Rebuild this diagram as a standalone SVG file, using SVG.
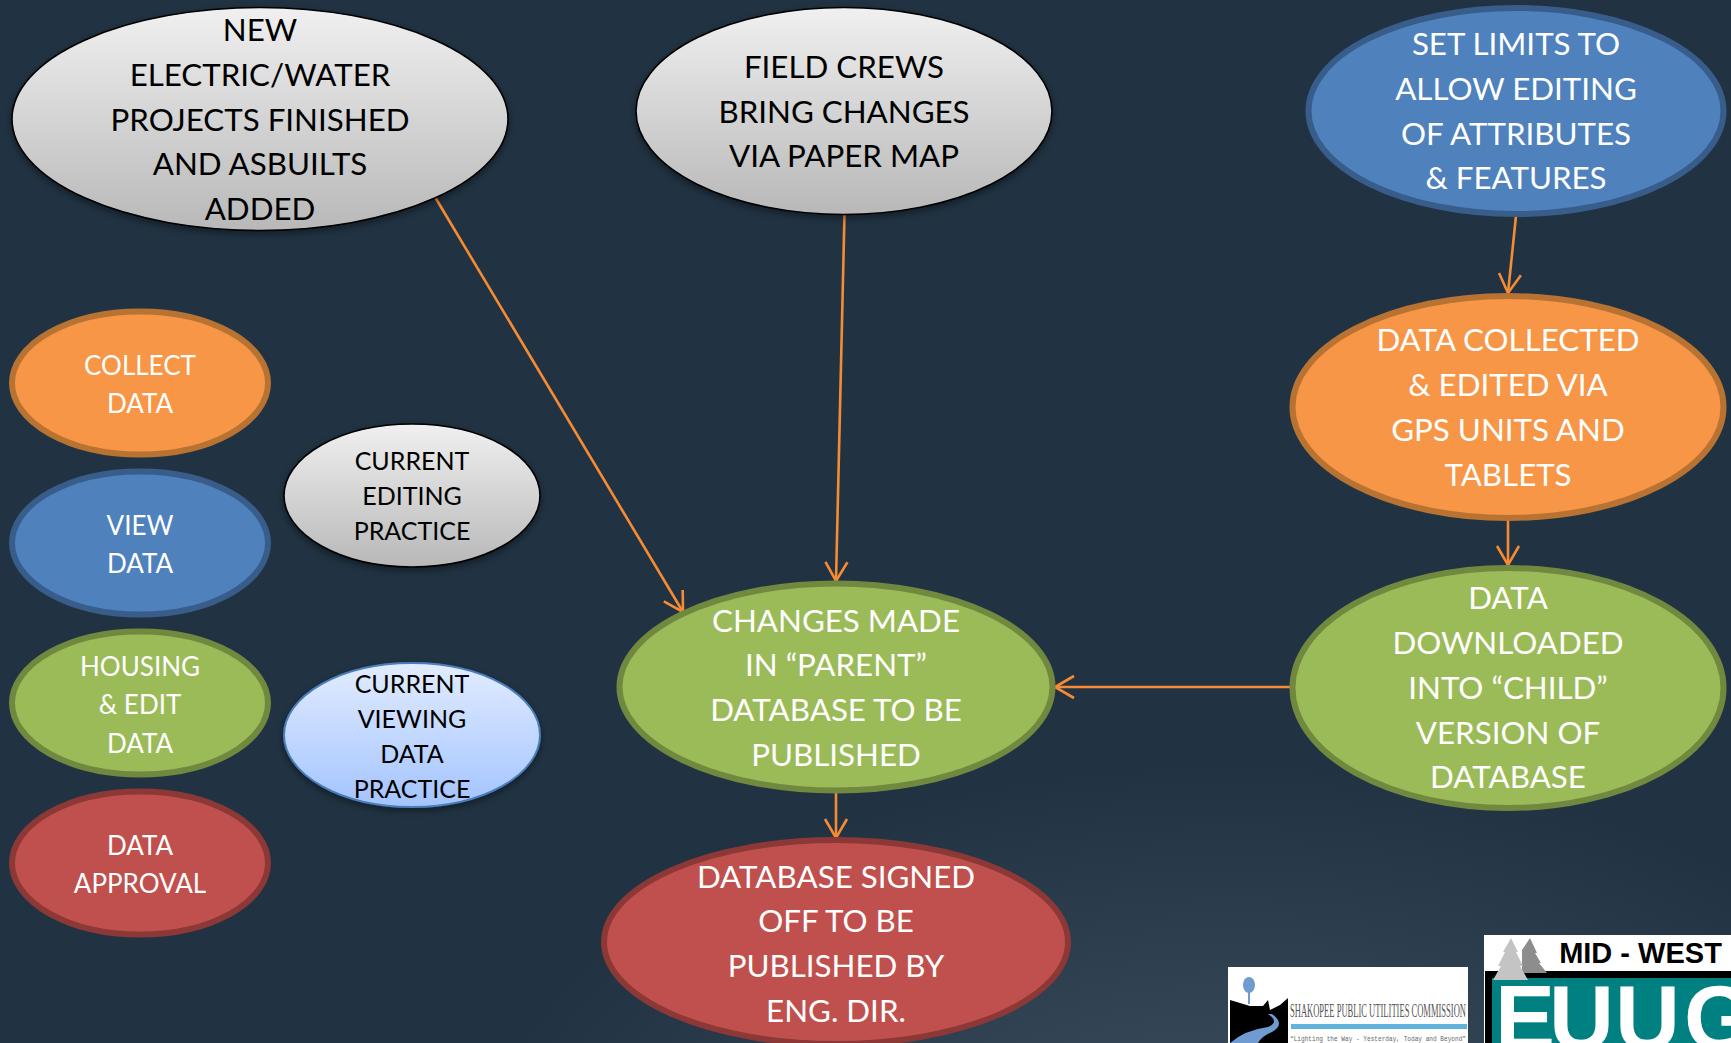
<svg xmlns="http://www.w3.org/2000/svg" width="1731" height="1043" viewBox="0 0 1731 1043">
<style>
text{font-family:"Lato","Carlito","Liberation Sans",sans-serif;text-anchor:middle}
.big{font-size:31.3px;transform:translateY(-1px)}.mid{font-size:26px;transform:translateY(-.5px)}.sm{font-size:25px;transform:translateY(-.5px)}
.w{fill:#fff}.k{fill:#000}
.orange{fill:#f79646;stroke:#b87333;stroke-width:6}
.blue{fill:#4f81bd;stroke:#385d8a;stroke-width:6}
.green{fill:#9bbb59;stroke:#71893f;stroke-width:6}
.red{fill:#c0504d;stroke:#8c3836;stroke-width:6}
.gray{fill:url(#gr);stroke:#000;stroke-width:1.6;filter:url(#sh)}
.lblue{fill:url(#lb);stroke:#4a7ebb;stroke-width:2;filter:url(#sh)}
.c line{stroke:#f68b33;stroke-width:2.6;marker-end:url(#a);fill:none}
</style>
<defs>
<radialGradient id="bg" gradientUnits="userSpaceOnUse" cx="1230" cy="1180" r="760" gradientTransform="translate(1230 1180) scale(1 .55) translate(-1230 -1180)">
<stop offset="0" stop-color="#3e5060"/><stop offset="1" stop-color="#213343"/></radialGradient>
<linearGradient id="gr" x1="0" y1="0" x2="0" y2="1"><stop offset="0" stop-color="#f0f0f0"/><stop offset="1" stop-color="#b8b8b8"/></linearGradient>
<linearGradient id="lb" x1="0" y1="0" x2="0" y2="1"><stop offset="0" stop-color="#e2ecff"/><stop offset="1" stop-color="#a3c4ff"/></linearGradient>
<filter id="sh" x="-10%" y="-10%" width="120%" height="125%"><feDropShadow dx="0" dy="3" stdDeviation="4" flood-color="#000" flood-opacity=".45"/></filter>
<marker id="a" markerUnits="userSpaceOnUse" markerWidth="26" markerHeight="28" refX="21" refY="12" orient="auto" overflow="visible"><path d="M2 1 L21 12 L2 23" fill="none" stroke="#f68b33" stroke-width="2.6"/></marker>
</defs>
<rect id="background" width="1731" height="1043" fill="#213343"/>
<rect width="1731" height="1043" fill="url(#bg)"/>

<g id="connectors" class="c">
<line x1="435" y1="197" x2="683" y2="612"/>
<line x1="844.500" y1="214" x2="836" y2="581"/>
<line x1="1516" y1="216" x2="1508" y2="293"/>
<line x1="1508" y1="520" x2="1508" y2="565"/>
<line x1="1290" y1="687" x2="1055" y2="687"/>
<line x1="836" y1="793" x2="836" y2="838"/>
</g>

<g id="n-new-projects"><ellipse class="gray" cx="260" cy="119" rx="248" ry="111.500"/>
<g class="big k"><text x="260" y="42">NEW</text><text x="260" y="87">ELECTRIC/WATER</text><text x="260" y="132">PROJECTS FINISHED</text><text x="260" y="176">AND ASBUILTS</text><text x="260" y="221">ADDED</text></g></g>
<g id="n-field-crews"><ellipse class="gray" cx="844" cy="111" rx="208" ry="103.500"/>
<g class="big k"><text x="844" y="79">FIELD CREWS</text><text x="844" y="124">BRING CHANGES</text><text x="844" y="168">VIA PAPER MAP</text></g></g>
<g id="n-set-limits"><ellipse class="blue" cx="1516" cy="111" rx="207.500" ry="103"/>
<g class="big w"><text x="1516" y="56">SET LIMITS TO</text><text x="1516" y="101">ALLOW EDITING</text><text x="1516" y="146">OF ATTRIBUTES</text><text x="1516" y="190">&amp; FEATURES</text></g></g>
<g id="n-data-collected"><ellipse class="orange" cx="1508" cy="407" rx="215.500" ry="111"/>
<g class="big w"><text x="1508" y="352">DATA COLLECTED</text><text x="1508" y="397">&amp; EDITED VIA</text><text x="1508" y="442">GPS UNITS AND</text><text x="1508" y="487">TABLETS</text></g></g>
<g id="n-data-downloaded"><ellipse class="green" cx="1508" cy="688" rx="215.500" ry="120"/>
<g class="big w"><text x="1508" y="610">DATA</text><text x="1508" y="655">DOWNLOADED</text><text x="1508" y="700">INTO “CHILD”</text><text x="1508" y="745">VERSION OF</text><text x="1508" y="789">DATABASE</text></g></g>
<g id="n-changes"><ellipse class="green" cx="836" cy="687" rx="216.500" ry="103.500"/>
<g class="big w"><text x="836" y="633">CHANGES MADE</text><text x="836" y="677">IN “PARENT”</text><text x="836" y="722">DATABASE TO BE</text><text x="836" y="767">PUBLISHED</text></g></g>
<g id="n-signed-off"><ellipse class="red" cx="836" cy="942" rx="232" ry="102"/>
<g class="big w"><text x="836" y="889">DATABASE SIGNED</text><text x="836" y="933">OFF TO BE</text><text x="836" y="978">PUBLISHED BY</text><text x="836" y="1023">ENG. DIR.</text></g></g>

<g id="n-collect"><ellipse class="orange" cx="140" cy="383" rx="128" ry="71.500"/>
<g class="mid w"><text x="140" y="375">COLLECT</text><text x="140" y="413">DATA</text></g></g>
<g id="n-view"><ellipse class="blue" cx="140" cy="543" rx="128" ry="71.500"/>
<g class="mid w"><text x="140" y="535">VIEW</text><text x="140" y="573">DATA</text></g></g>
<g id="n-housing"><ellipse class="green" cx="140" cy="703" rx="128" ry="71.500"/>
<g class="mid w"><text x="140" y="676">HOUSING</text><text x="140" y="714">&amp; EDIT</text><text x="140" y="753">DATA</text></g></g>
<g id="n-approval"><ellipse class="red" cx="140" cy="863" rx="128" ry="71.500"/>
<g class="mid w"><text x="140" y="855">DATA</text><text x="140" y="893">APPROVAL</text></g></g>
<g id="n-current-editing"><ellipse class="gray" cx="412" cy="495.500" rx="128" ry="71.500"/>
<g class="sm k"><text x="412" y="470">CURRENT</text><text x="412" y="505">EDITING</text><text x="412" y="540">PRACTICE</text></g></g>
<g id="n-current-viewing"><ellipse class="lblue" cx="412" cy="735" rx="128" ry="72"/>
<g class="sm k"><text x="412" y="693">CURRENT</text><text x="412" y="728">VIEWING</text><text x="412" y="763">DATA</text><text x="412" y="798">PRACTICE</text></g></g>

<g id="logo-shakopee">
<rect x="1228" y="967" width="240" height="76" fill="#fff"/>
<ellipse cx="1249" cy="985" rx="6" ry="8" fill="#6f9bd1"/><rect x="1248" y="990" width="2" height="14" fill="#6f9bd1"/>
<path d="M1230 1000 L1250 1006 L1263 1006 L1268 1000 L1270 1010 L1280 1005 L1288 998 L1288 1043 L1230 1043Z" fill="#000"/>
<path d="M1230 1043 Q1245 1030 1268 1027 Q1280 1022 1268 1014 L1272 1014 Q1286 1024 1272 1032 Q1262 1036 1258 1043Z" fill="#6f9bd1"/>
<text x="1378" y="1017" style="font-family:'Liberation Serif',serif;font-size:19px" fill="#555" textLength="176" lengthAdjust="spacingAndGlyphs">SHAKOPEE PUBLIC UTILITIES COMMISSION</text>
<rect x="1291" y="1024" width="176" height="5" fill="#5fb3dc"/>
<text x="1378" y="1041" style="font-family:'Liberation Mono',monospace;font-size:8px" fill="#666" textLength="176" lengthAdjust="spacingAndGlyphs">“Lighting the Way - Yesterday, Today and Beyond”</text>
</g>
<g id="logo-euug">
<rect x="1484" y="935" width="247" height="108" fill="#fff"/>
<rect x="1485" y="971" width="246" height="72" fill="#000"/>
<rect x="1492" y="978" width="239" height="65" fill="#008080"/>
<path d="M1530 938 L1537 953 L1535 953 L1541 963 L1539 963 L1547 973 L1522 973 L1522 950Z" fill="#8d8d8d"/>
<path d="M1511 938 L1518 952 L1516 952 L1523 966 L1520 966 L1528 980 L1493 980 L1501 966 L1498 966 L1505 952 L1503 952Z" fill="#c4c4c4"/>
<text x="1640.500" y="963" style="font-family:'Liberation Sans',sans-serif;font-size:29px;font-weight:bold" fill="#000">MID - WEST</text>
<text x="1495 1549 1615 1684" y="1049" style="font-family:'Liberation Sans',sans-serif;font-size:90px;font-weight:bold;text-anchor:start" fill="#fff">EUUG</text>
</g>
</svg>
